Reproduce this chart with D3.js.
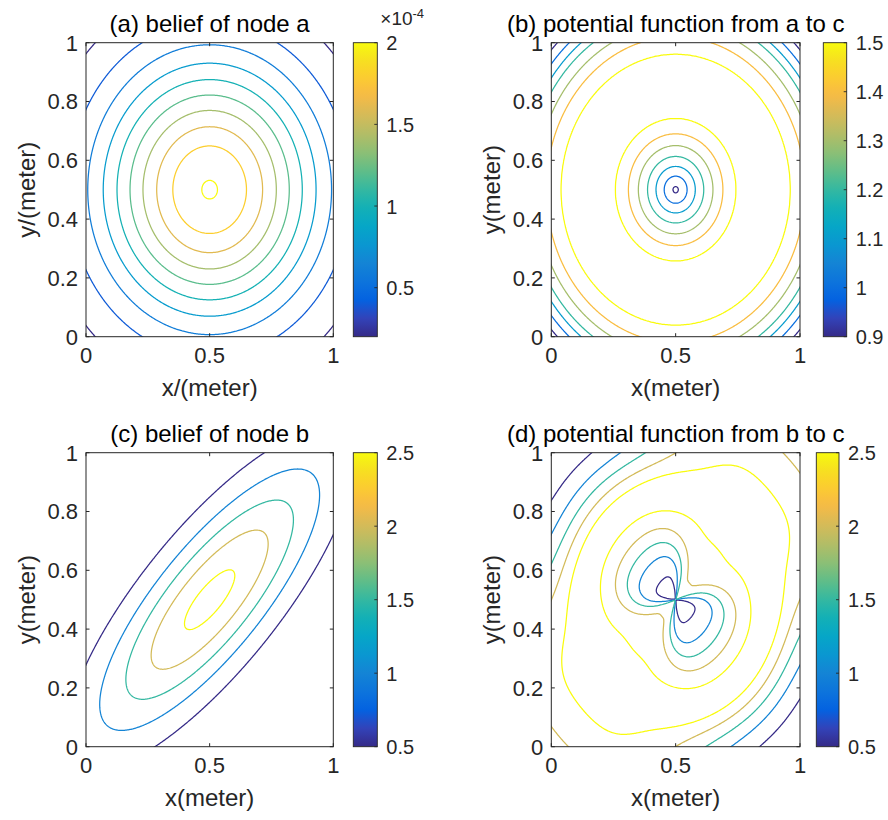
<!DOCTYPE html>
<html>
<head>
<meta charset="utf-8">
<script src="https://cdn.jsdelivr.net/npm/d3@7"></script>
<style>
  body { margin: 0; background: #fff; }
  svg { display: block; font-family: "Liberation Sans", Arial, Helvetica, sans-serif; }
</style>
</head>
<body>
<svg id="fig" width="888" height="820"></svg>
<script>
// ---------- data ----------
// (a) belief of node a: isotropic Gaussian (values in units of 1e-4)
const meanA = [0.5, 0.5];
const sdA = [0.317, 0.317];
const peakA = 2.01;
const levelsA = [0.2, 0.4, 0.6, 0.8, 1.0, 1.2, 1.4, 1.6, 1.8, 2.0];
const cbTicksA = [0.5, 1, 1.5, 2];

// (b) potential a -> c: radial profile around the centre
const radiusAC = [0, 0.011, 0.046, 0.079, 0.113, 0.150, 0.190, 0.242, 0.35, 0.461, 0.52, 0.562, 0.600, 0.628, 0.658, 0.690, 0.80];
const valueAC  = [0.897, 0.9, 1.0, 1.1, 1.2, 1.3, 1.4, 1.5, 1.508, 1.5, 1.4, 1.3, 1.2, 1.1, 1.0, 0.9, 0.6];
const levelsAC = [0.9, 1.0, 1.1, 1.2, 1.3, 1.4, 1.5];
const cbTicksAC = [0.9, 1, 1.1, 1.2, 1.3, 1.4, 1.5];

// (c) belief of node b: correlated Gaussian (sd along / across the 45 degree axis)
const meanB = [0.5, 0.5];
const sdB = [0.429, 0.1427];
const tiltB = 45;
const peakB = 2.63;
const levelsB = [0.5, 1.0, 1.5, 2.0, 2.5];
const cbTicksB = [0.5, 1, 1.5, 2, 2.5];

// (d) potential b -> c: radial profiles along the diagonal and the anti-diagonal
const radiusDiag = [0, 0.08, 0.24, 0.38, 0.53, 0.66, 0.80];
const valueDiag  = [1.8, 2.0, 2.5, 2.68, 2.5, 2.0, 1.4];
const radiusAnti = [0, 0.088, 0.158, 0.207, 0.255, 0.31, 0.365, 0.42, 0.455, 0.495, 0.54, 0.60, 0.80];
const valueAnti  = [0.3, 0.5, 1.0, 1.5, 2.0, 2.5, 2.62, 2.5, 2.0, 1.5, 1.0, 0.5, 0.0];
const lobeSharpness = [0.8, 0.22];   // extra angular exponent near the node, and its reach
const levelsBC = [0.5, 1.0, 1.5, 2.0, 2.5];
const cbTicksBC = [0.5, 1, 1.5, 2, 2.5];

const xTicks = [0, 0.5, 1];
const yTicks = [0, 0.2, 0.4, 0.6, 0.8, 1];

// parula colormap stops
const parulaHex = ["#352a87","#3243ba","#0363e1","#0d75dc","#1485d4","#0998d1","#06a7c6","#15b1b4",
                   "#38b99e","#65be86","#92bf73","#b7bd64","#d9ba56","#f8bb44","#fcce2e","#f5e41d","#f9fb0e"];
const parulaIdx = [0,4,8,12,16,20,24,28,32,36,40,44,48,52,56,60,63];

// ---------- helpers ----------
const parula = d3.scaleLinear()
  .domain(parulaIdx.map(i => i / 63))
  .range(parulaHex)
  .interpolate(d3.interpolateRgb)
  .clamp(true);

// monotone cubic interpolation through (xs, ys)
function monotone(xs, ys) {
  const n = xs.length, d = [], m = new Array(n);
  for (let i = 0; i < n - 1; i++) d.push((ys[i + 1] - ys[i]) / (xs[i + 1] - xs[i]));
  m[0] = d[0]; m[n - 1] = d[n - 2];
  for (let i = 1; i < n - 1; i++) {
    if (d[i - 1] * d[i] <= 0) m[i] = 0;
    else {
      const hA = xs[i] - xs[i - 1], hB = xs[i + 1] - xs[i];
      const w1 = 2 * hB + hA, w2 = hB + 2 * hA;
      m[i] = (w1 + w2) / (w1 / d[i - 1] + w2 / d[i]);
    }
  }
  return x => {
    if (x <= xs[0]) return ys[0] + m[0] * (x - xs[0]);
    if (x >= xs[n - 1]) return ys[n - 1] + m[n - 1] * (x - xs[n - 1]);
    const i = d3.bisectRight(xs, x) - 1;
    const h = xs[i + 1] - xs[i], s = (x - xs[i]) / h, s2 = s * s, s3 = s2 * s;
    return (2 * s3 - 3 * s2 + 1) * ys[i] + (s3 - 2 * s2 + s) * h * m[i]
         + (-2 * s3 + 3 * s2) * ys[i + 1] + (s3 - s2) * h * m[i + 1];
  };
}

// the same profile, lightly smoothed along r and tabulated
function smoothProfile(xs, ys, sigma) {
  const f = monotone(xs, ys);
  const dr = 0.0025, n = Math.ceil(0.9 / dr) + 1, K = Math.ceil(3 * sigma / dr);
  const kern = d3.range(-K, K + 1).map(k => Math.exp(-0.5 * (k * dr / sigma) ** 2));
  const ksum = d3.sum(kern);
  const table = new Float64Array(n);
  for (let i = 0; i < n; i++) {
    let acc = 0;
    for (let k = -K; k <= K; k++) acc += kern[k + K] * f(Math.abs((i + k) * dr));
    table[i] = acc / ksum;
  }
  return r => {
    const t = r / dr, i = Math.min(n - 2, Math.floor(t)), s = t - i;
    return table[i] * (1 - s) + table[i + 1] * s;
  };
}

// fields over the unit square
function fieldA(x, y) {
  const dx = (x - meanA[0]) / sdA[0], dy = (y - meanA[1]) / sdA[1];
  return peakA * Math.exp(-0.5 * (dx * dx + dy * dy));
}
const profAC = monotone(radiusAC, valueAC);
function fieldAC(x, y) {
  return profAC(Math.hypot(x - 0.5, y - 0.5));
}
function fieldB(x, y) {
  const a = tiltB * Math.PI / 180;
  const dx = x - meanB[0], dy = y - meanB[1];
  const u = dx * Math.cos(a) + dy * Math.sin(a);
  const v = -dx * Math.sin(a) + dy * Math.cos(a);
  const su = u / sdB[0], sv = v / sdB[1];
  return peakB * Math.exp(-0.5 * (su * su + sv * sv));
}
const profDiag = smoothProfile(radiusDiag, valueDiag, 0.015);
const profAnti = smoothProfile(radiusAnti, valueAnti, 0.012);
function fieldBC(x, y) {
  const dx = x - 0.5, dy = y - 0.5;
  const u = (dx + dy) / Math.SQRT2, v = (dy - dx) / Math.SQRT2;
  const r2 = u * u + v * v, r = Math.sqrt(r2);
  const c = r2 > 0 ? v * v / r2 : 0.5;          // 0 on the diagonal, 1 on the anti-diagonal
  const k = r / lobeSharpness[1];
  const q = 1 + lobeSharpness[0] * Math.exp(-(k * k));
  const w = 1 - Math.pow(1 - c, q);
  const g = w * w * (3 - 2 * w);                // flat towards both axes of symmetry
  return (1 - g) * profDiag(r) + g * profAnti(r);
}

// sampling grid slightly larger than the plotted square
const N = 281, PAD = 0.03, STEP = (1 + 2 * PAD) / (N - 1);
function sample(fn) {
  const vals = new Float64Array(N * N);
  for (let j = 0; j < N; j++) {
    const y = -PAD + j * STEP;
    for (let i = 0; i < N; i++) vals[j * N + i] = fn(-PAD + i * STEP, y);
  }
  return vals;
}

// ---------- layout ----------
const svg = d3.select("#fig");
const INK = "#262626";

const panels = [
  { id: "a", title: "(a) belief of node a", xlab: "x/(meter)", ylab: "y/(meter)",
    box: [86, 333.3, 42.7, 336.7], cb: [353.3, 377.3],
    field: fieldA, levels: levelsA, cbTicks: cbTicksA, exponent: true },
  { id: "b", title: "(b) potential function from a to c", xlab: "x(meter)", ylab: "y(meter)",
    box: [551.3, 800, 42.7, 336.7], cb: [823.3, 846.7],
    field: fieldAC, levels: levelsAC, cbTicks: cbTicksAC },
  { id: "c", title: "(c) belief of node b", xlab: "x(meter)", ylab: "y(meter)",
    box: [86, 333.3, 452.7, 746.7], cb: [353.3, 377.3],
    field: fieldB, levels: levelsB, cbTicks: cbTicksB },
  { id: "d", title: "(d) potential function from b to c", xlab: "x(meter)", ylab: "y(meter)",
    box: [551.3, 800, 452.7, 746.7], cb: [816.3, 839],
    field: fieldBC, levels: levelsBC, cbTicks: cbTicksBC }
];

const defs = svg.append("defs");
const grad = defs.append("linearGradient").attr("id", "parulaGrad")
  .attr("x1", 0).attr("y1", 1).attr("x2", 0).attr("y2", 0);
d3.range(0, 1.0001, 1 / 32).forEach(t => {
  grad.append("stop").attr("offset", t).attr("stop-color", parula(t));
});

panels.forEach(p => {
  const [x0, x1, y0, y1] = p.box;
  const xs = d3.scaleLinear().domain([0, 1]).range([x0, x1]);
  const ys = d3.scaleLinear().domain([0, 1]).range([y1, y0]);
  const lmin = d3.min(p.levels), lmax = d3.max(p.levels);
  const g = svg.append("g").attr("class", "panel-" + p.id);

  defs.append("clipPath").attr("id", "clip-" + p.id)
    .append("rect").attr("x", x0).attr("y", y0).attr("width", x1 - x0).attr("height", y1 - y0);

  // contour lines
  const values = sample(p.field);
  const contours = d3.contours().size([N, N]).thresholds(p.levels)(values);
  const proj = d3.geoTransform({
    point(px, py) {
      this.stream.point(xs(-PAD + (px - 0.5) * STEP), ys(-PAD + (py - 0.5) * STEP));
    }
  });
  const path = d3.geoPath(proj);
  g.append("g").attr("clip-path", "url(#clip-" + p.id + ")")
    .selectAll("path").data(contours).join("path")
    .attr("d", path)
    .attr("fill", "none")
    .attr("stroke", d => parula((d.value - lmin) / (lmax - lmin)))
    .attr("stroke-width", 1.25)
    .attr("stroke-linejoin", "round");

  // axes box and inward ticks
  const tl = 3.5;
  const ax = g.append("g").attr("stroke", INK).attr("stroke-width", 1);
  xTicks.forEach(t => {
    ax.append("line").attr("x1", xs(t)).attr("x2", xs(t)).attr("y1", y1).attr("y2", y1 - tl);
    ax.append("line").attr("x1", xs(t)).attr("x2", xs(t)).attr("y1", y0).attr("y2", y0 + tl);
  });
  yTicks.forEach(t => {
    ax.append("line").attr("y1", ys(t)).attr("y2", ys(t)).attr("x1", x0).attr("x2", x0 + tl);
    ax.append("line").attr("y1", ys(t)).attr("y2", ys(t)).attr("x1", x1).attr("x2", x1 - tl);
  });
  ax.append("rect").attr("x", x0).attr("y", y0).attr("width", x1 - x0).attr("height", y1 - y0)
    .attr("fill", "none");

  // tick labels
  g.selectAll(".xt").data(xTicks).join("text")
    .attr("x", d => xs(d)).attr("y", y1 + 26.7)
    .attr("text-anchor", "middle").attr("font-size", 22).attr("fill", INK)
    .text(d => String(d));
  g.selectAll(".yt").data(yTicks).join("text")
    .attr("x", x0 - 8).attr("y", d => ys(d) + 7.8)
    .attr("text-anchor", "end").attr("font-size", 22).attr("fill", INK)
    .text(d => String(d));

  // axis labels and title
  g.append("text").attr("x", (x0 + x1) / 2).attr("y", y1 + 59.5)
    .attr("text-anchor", "middle").attr("font-size", 24).attr("fill", INK).text(p.xlab);
  g.append("text")
    .attr("transform", `translate(${x0 - 51},${(y0 + y1) / 2}) rotate(-90)`)
    .attr("text-anchor", "middle").attr("font-size", 24).attr("fill", INK).text(p.ylab);
  g.append("text").attr("x", (x0 + x1) / 2).attr("y", y0 - 10.5)
    .attr("text-anchor", "middle").attr("font-size", 24).attr("fill", "#000").text(p.title);

  // colour bar
  const [c0, c1] = p.cb;
  const cs = d3.scaleLinear().domain([lmin, lmax]).range([y1, y0]);
  g.append("rect").attr("x", c0).attr("y", y0).attr("width", c1 - c0).attr("height", y1 - y0)
    .attr("fill", "url(#parulaGrad)").attr("stroke", INK).attr("stroke-width", 0.9);
  p.cbTicks.forEach(t => {
    g.append("line").attr("x1", c1).attr("x2", c1 - 3).attr("y1", cs(t)).attr("y2", cs(t))
      .attr("stroke", INK).attr("stroke-width", 0.9);
  });
  g.selectAll(".ct").data(p.cbTicks).join("text")
    .attr("x", c1 + 9).attr("y", d => cs(d) + 7.5)
    .attr("font-size", 20).attr("fill", INK)
    .text(d => String(d));
  if (p.exponent) {
    const e = g.append("text").attr("x", c0 + 27).attr("y", 25).attr("fill", INK);
    e.append("tspan").attr("font-size", 19).text("\u00d710");
    e.append("tspan").attr("font-size", 13).attr("dy", -7).text("-4");
  }
});
</script>
</body>
</html>
